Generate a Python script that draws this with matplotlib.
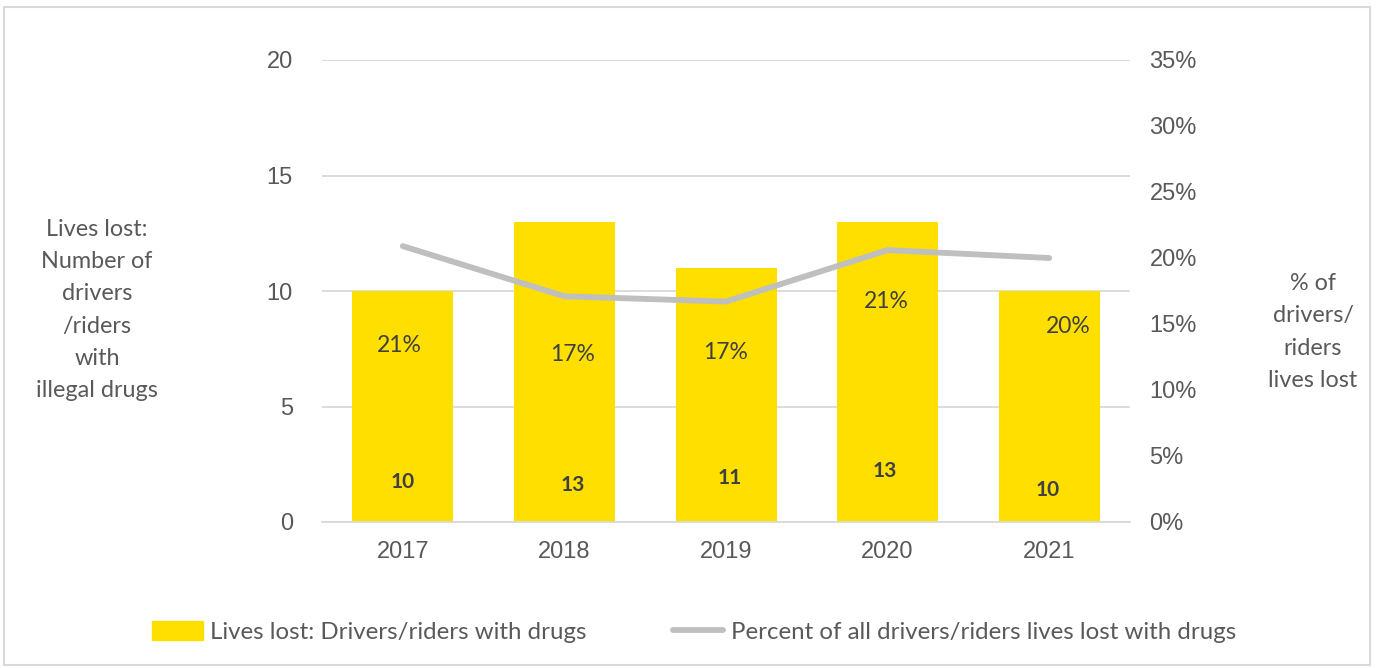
import matplotlib.pyplot as plt
from matplotlib.patches import Rectangle
from matplotlib.lines import Line2D
import numpy as np

years = ["2017", "2018", "2019", "2020", "2021"]
lives_lost = [10, 13, 11, 13, 10]
percent_lost = [20.9, 17.1, 16.7, 20.6, 20.0]
percent_labels = ["21%", "17%", "17%", "21%", "20%"]

# label placement (left-axis units) for the annotations inside the bars
pct_label_y = [7.65, 7.25, 7.35, 9.55, 8.45]
pct_label_dx = [-0.02, 0.05, 0.0, -0.01, 0.12]
count_label_y = [1.75, 1.6, 1.9, 2.2, 1.4]
count_label_dx = [0.0, 0.05, 0.02, -0.02, -0.01]

BAR = "#FFDF00"
LINE = "#BFBFBF"
TXT = "#595959"
GRID = "#D9D9D9"
CAL = ["Lato", "DejaVu Sans"]
ARIAL = ["Liberation Sans", "DejaVu Sans"]

fig = plt.figure(figsize=(13.77, 6.68), dpi=100)
fig.patches.append(Rectangle((0.003, 0.004), 0.992, 0.985, transform=fig.transFigure,
                             fill=False, edgecolor="#D9D9D9", linewidth=1.5))

ax = fig.add_axes([322 / 1377, 1 - 522 / 668, 808 / 1377, 462 / 668])
x = np.arange(len(years))
ax.bar(x, lives_lost, width=0.625, color=BAR, zorder=2)
ax.set_xlim(-0.5, len(years) - 0.5)
ax.set_ylim(0, 20)
ax.set_yticks([0, 5, 10, 15, 20])
ax.set_xticks(x)
ax.set_xticklabels(years)
ax.yaxis.grid(True, color=GRID, linewidth=1.3, zorder=0)
ax.set_axisbelow(True)
for s in ["top", "right", "left"]:
    ax.spines[s].set_visible(False)
ax.spines["bottom"].set_color(GRID)
ax.spines["bottom"].set_linewidth(1.3)
ax.tick_params(axis="both", length=0, colors=TXT, labelsize=17)
ax.tick_params(axis="y", pad=21)
ax.tick_params(axis="x", pad=14)
for lab in ax.get_xticklabels() + ax.get_yticklabels():
    lab.set_fontfamily(ARIAL)

ax2 = ax.twinx()
ax2.plot(x, percent_lost, color=LINE, linewidth=4.2, solid_capstyle="round", zorder=3)
ax2.set_ylim(0, 35)
ax2.set_yticks(range(0, 40, 5))
ax2.set_yticklabels([f"{v}%" for v in range(0, 40, 5)])
for s in ["top", "right", "left", "bottom"]:
    ax2.spines[s].set_visible(False)
ax2.tick_params(axis="y", length=0, colors=TXT, labelsize=17, pad=14)
for lab in ax2.get_yticklabels():
    lab.set_fontfamily(ARIAL)

for i in range(len(years)):
    ax.text(x[i] + pct_label_dx[i], pct_label_y[i], percent_labels[i], ha="center",
            va="center", fontsize=16.5, color="#404040", family=CAL, zorder=4)
    ax.text(x[i] + count_label_dx[i], count_label_y[i], str(lives_lost[i]), ha="center",
            va="center", fontsize=15, fontweight="bold", color="#404040", family=CAL, zorder=4)

fig.text(97 / 1377, 1 - 310 / 668,
         "Lives lost:\nNumber of\ndrivers\n/riders\nwith\nillegal drugs",
         ha="center", va="center", fontsize=16.8, color=TXT, family=CAL, linespacing=1.65)
fig.text(1313 / 1377, 1 - 332 / 668, "% of\ndrivers/\nriders\nlives lost",
         ha="center", va="center", fontsize=16.8, color=TXT, family=CAL, linespacing=1.67)

handles = [Rectangle((0, 0), 1, 1, color=BAR),
           Line2D([0], [0], color=LINE, linewidth=4.2, solid_capstyle="round")]
fig.legend(handles, ["Lives lost: Drivers/riders with drugs",
                     "Percent of all drivers/riders lives lost with drugs"],
           loc="center", bbox_to_anchor=(694 / 1377, 1 - 632 / 668), ncol=2, frameon=False,
           prop={"family": CAL, "size": 17.3}, labelcolor=TXT, handlelength=2.1,
           handleheight=0.8, handletextpad=0.3, columnspacing=3.6)

fig.savefig("out.png", dpi=100)
